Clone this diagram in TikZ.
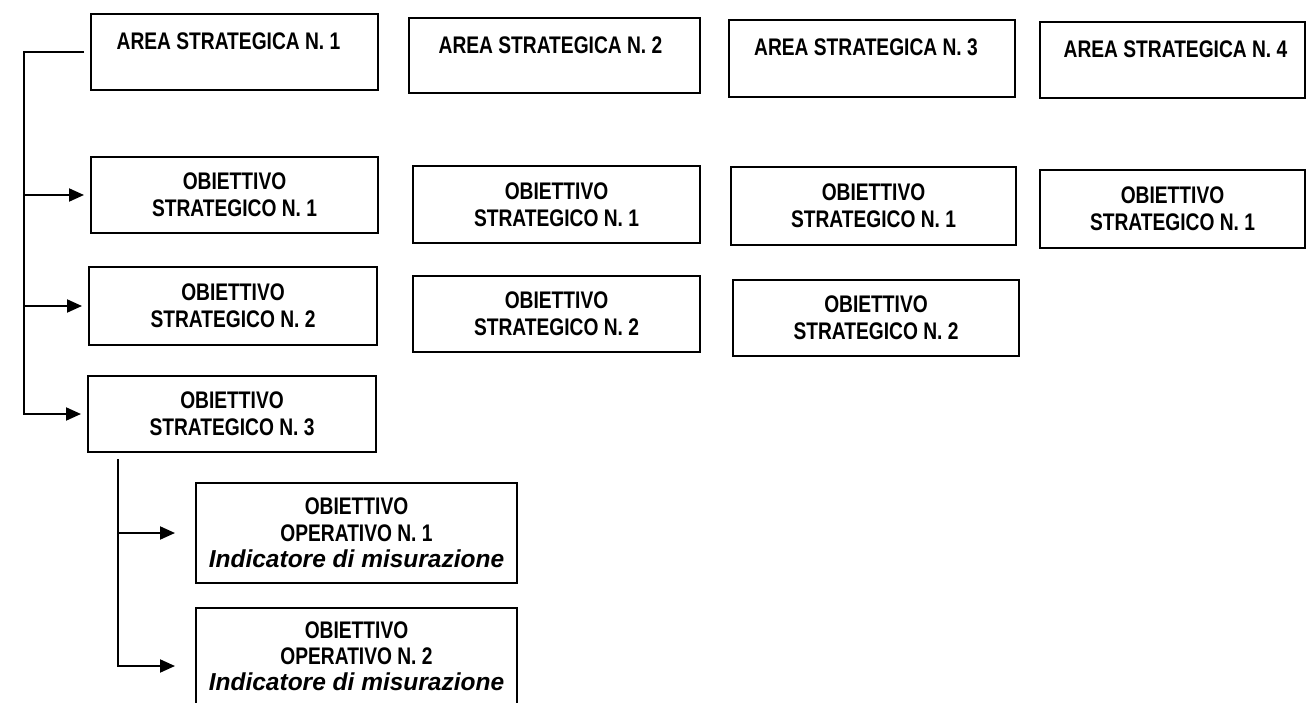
\documentclass[tikz,border=0pt]{standalone}
\usepackage{fontspec}
\setmainfont{Liberation Sans}[FakeStretch=0.8]
\newfontfamily\plainsans{Liberation Sans}
\usetikzlibrary{arrows.meta}
\begin{document}
\begin{tikzpicture}[x=1pt,y=-1pt,
  txt/.style={font=\fontsize{24}{27}\selectfont\bfseries},
  box/.style={draw=black, line width=2pt, rectangle, inner sep=0pt, align=center, txt},
  areabox/.style={box},
  opbox/.style={box, minimum width=321, font=\fontsize{24}{26.5}\selectfont\bfseries},
  itl/.style={font=\plainsans\bfseries\itshape\fontsize{24.5}{26.5}\selectfont},
  conn/.style={line width=2pt, black},
  arr/.style={conn, -{Triangle[length=15pt,width=13pt]}}
]
\useasboundingbox (0,0) rectangle (1309,703);
% Area boxes
\node[areabox, minimum width=287, minimum height=76,
  label={[anchor=north, yshift=-16pt, xshift=-6pt, txt]north:AREA STRATEGICA N. 1}] (a1) at (234.5,52) {};
\node[areabox, minimum width=291, minimum height=75,
  label={[anchor=north, yshift=-16pt, xshift=-4pt, txt]north:AREA STRATEGICA N. 2}] (a2) at (554.5,55.5) {};
\node[areabox, minimum width=286, minimum height=77,
  label={[anchor=north, yshift=-16pt, xshift=-6pt, txt]north:AREA STRATEGICA N. 3}] (a3) at (872,58.5) {};
\node[areabox, minimum width=265, minimum height=76,
  label={[anchor=north, yshift=-16pt, xshift=3pt, txt]north:AREA STRATEGICA N. 4}] (a4) at (1172.5,60) {};
% Strategic objectives
\node[box, minimum width=287, minimum height=76] (s11) at (234.5,195) {OBIETTIVO\\STRATEGICO N. 1};
\node[box, minimum width=287, minimum height=77] (s12) at (556.5,204.5) {OBIETTIVO\\STRATEGICO N. 1};
\node[box, minimum width=285, minimum height=78] (s13) at (873.5,206) {OBIETTIVO\\STRATEGICO N. 1};
\node[box, minimum width=265, minimum height=78] (s14) at (1172.5,209) {OBIETTIVO\\STRATEGICO N. 1};
\node[box, minimum width=288, minimum height=78] (s21) at (233,306) {OBIETTIVO\\STRATEGICO N. 2};
\node[box, minimum width=287, minimum height=76] (s22) at (556.5,314) {OBIETTIVO\\STRATEGICO N. 2};
\node[box, minimum width=286, minimum height=76] (s23) at (876,318) {OBIETTIVO\\STRATEGICO N. 2};
\node[box, minimum width=288, minimum height=76] (s31) at (232,414) {OBIETTIVO\\STRATEGICO N. 3};
% Operational objectives
\node[opbox, minimum height=100] (o1) at (356.5,533)
  {OBIETTIVO\\OPERATIVO N. 1\\{\tikzset{}\plainsans\bfseries\itshape\fontsize{24.5}{26.5}\selectfont Indicatore di misurazione}};
\node[opbox, minimum height=116,
  label={[anchor=north, yshift=-11pt, align=center, font=\fontsize{24}{26}\selectfont\bfseries]north:OBIETTIVO\\OPERATIVO N. 2\\{\plainsans\bfseries\itshape\fontsize{24.5}{26}\selectfont Indicatore di misurazione}}] (o2) at (356.5,666) {};
% Connectors: area 1 to strategic objectives
\coordinate (lv) at (24,0);
\draw[arr] ([xshift=-6pt]a1.west) -| (lv |- s31.west) -- ([xshift=-6pt]s31.west);
\draw[arr] (lv |- s11.west) -- ([xshift=-6pt]s11.west);
\draw[arr] (lv |- s21.west) -- ([xshift=-6pt]s21.west);
% Connectors: strategic objective 3 to operational objectives
\coordinate (lv2) at (118,0);
\coordinate (t) at ([yshift=-6pt]s31.south);
\draw[arr] (lv2 |- t) |- ([xshift=-20pt]o2.west);
\draw[arr] (lv2 |- o1.west) -- ([xshift=-20pt]o1.west);
\end{tikzpicture}
\end{document}
